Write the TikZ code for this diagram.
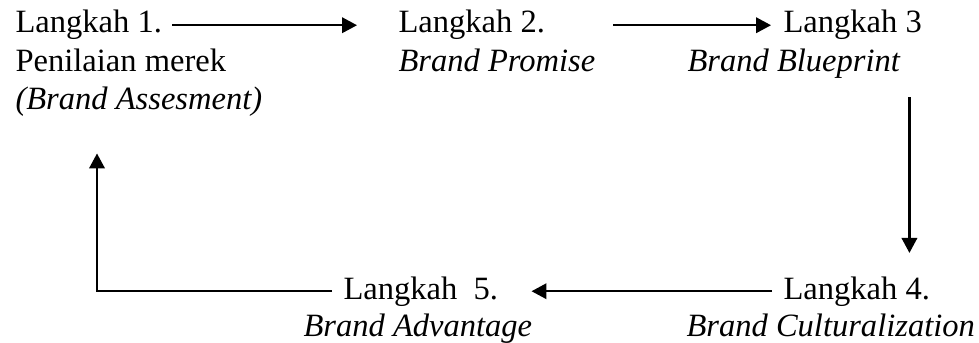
\documentclass[tikz,border=0pt]{standalone}
\usepackage{fontspec}
\setmainfont{Liberation Serif}
\usetikzlibrary{arrows.meta,calc,positioning}

\tikzset{
  langkah/.style={anchor=base west, inner sep=0pt, font=\fontsize{12.2}{14}\selectfont},
  judul/.style={langkah, font=\fontsize{12.2}{14}\selectfont\itshape},
  alur/.style={-{Triangle[length=5.6pt,width=5.8pt]}, line width=0.8pt},
}

\begin{document}
\begin{tikzpicture}[x=0.375pt,y=-0.375pt]
\useasboundingbox (0,0) rectangle (979,342);
% langkah 1 - 3, baris atas
\node[langkah] (s1) at (15,33) {Langkah 1.};
\node[langkah] (s1b) at (15,72) {Penilaian merek};
\node[judul] (s1c) at (15,110) {(Brand Assesment)};
\node[langkah] (s2) at (398,33) {Langkah 2.};
\node[judul] (s2b) at (398,72) {Brand Promise};
\node[langkah] (s3) at (783,33) {Langkah 3};
\node[judul] (s3b) at (687,72) {Brand Blueprint};
% langkah 4 - 5, baris bawah
\node[langkah] (s4) at (783,299) {Langkah 4.};
\node[judul] (s4b) at (686,336) {Brand Culturalization};
\node[langkah] (s5) at (343,299) {Langkah \ 5.};
\node[judul] (s5b) at (303,336) {Brand Advantage};
% panah
\coordinate (p3) at ($(s3b.south east)+(9,18)$);
\draw[alur] ($(s1.east)+(10,0)$) -- ($(s2.west)+(-41,0)$); %1-2
\draw[alur] ($(s2.east)+(68,0)$) -- ($(s3.west)+(-12,0)$); %2-3
\draw[alur] (p3) -- ($(p3 |- s4.north)+(0,-23)$); %3-4
\draw[alur] ($(s4.west)+(-11,0)$) -- ($(s5.east)+(33,0)$); %4-5
\draw[alur] ($(s5.west)+(-11,0)$) -| ($(s1c.south west)+(82,36)$); %5-1
\end{tikzpicture}
\end{document}
